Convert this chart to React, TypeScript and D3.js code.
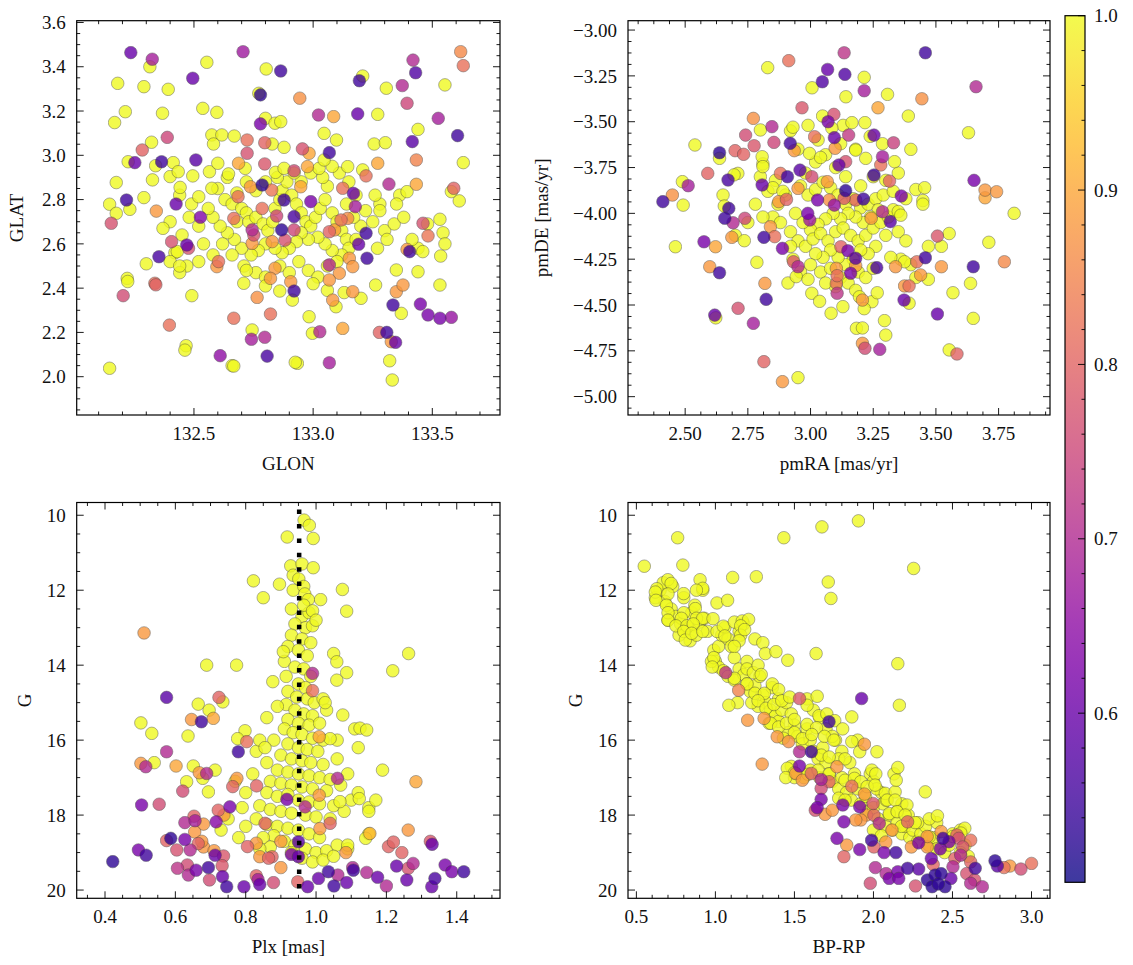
import React from 'react';
import * as d3 from 'd3';

type Pt = [number, number, number];

// ---------- Panel 1: GLON / GLAT ----------
const skyPoints: Pt[] = [
[132.235,3.464,0.6],[132.325,3.434,0.68],[132.315,3.40,1],[132.554,3.42,1],[132.706,3.468,0.67],[132.495,3.348,0.6],[132.18,3.325,1],[132.29,3.31,1],[132.392,3.298,1],[132.803,3.39,1],[132.864,3.381,0.55],[132.772,3.28,1],[132.779,3.273,0.53],[132.944,3.258,0.87],[133.208,3.358,1],[133.194,3.337,0.55],[133.307,3.303,1],[133.374,3.315,0.7],[133.394,3.235,0.75],[133.419,3.43,0.7],[133.43,3.373,0.57],[133.553,3.318,1],[133.619,3.468,0.86],[133.63,3.405,0.82],
[132.212,3.197,1],[132.167,3.148,1],[132.368,3.19,1],[132.537,3.212,1],[132.596,3.194,1],[132.8,3.167,1],[132.779,3.142,0.62],[132.84,3.145,1],[132.864,3.152,1],[133.0225,3.182,0.7],[133.086,3.175,0.9],[133.187,3.187,0.6],[133.271,3.185,1],[133.525,3.167,0.68],[133.44,3.117,1],[133.606,3.089,0.55],[133.416,3.062,0.58],[133.046,3.099,1],[133.098,3.069,1],[132.575,3.092,1],[132.617,3.092,1],[132.669,3.087,1],[132.388,3.081,0.75],[132.322,3.059,1],[132.283,3.024,0.8],[132.582,3.051,1],[132.723,3.069,0.82],[132.723,3.009,0.77],[132.797,3.057,0.8],[132.828,3.051,1],[132.878,3.036,1],[132.955,3.029,0.77],[132.983,3.009,0.9],[133.068,3.012,0.55],[133.256,3.051,1],[133.303,3.057,1],[133.63,2.967,1],
[132.224,2.971,1],[132.252,2.967,0.6],[132.339,2.953,1],[132.364,2.971,0.55],[132.413,2.967,1],[132.508,2.979,0.58],[132.495,2.907,1],[132.326,2.889,1],[132.4,2.904,1],[132.434,2.926,1],[132.174,2.877,1],[132.565,2.926,1],[132.60,2.964,1],[132.645,2.916,1],[132.687,2.964,0.9],[132.715,2.941,1],[132.797,2.961,0.78],[132.842,2.923,1],[132.878,2.941,1],[132.92,2.93,0.76],[132.976,2.949,0.9],[133.025,2.941,1],[133.046,2.979,1],[133.145,2.949,1],[133.271,2.964,0.9],[133.208,2.934,1],[133.433,2.979,0.85],[133.222,2.907,0.82],[133.318,2.87,0.7],[133.433,2.869,0.9],[133.363,2.82,1],[133.394,2.836,1],[133.58,2.836,1],[133.59,2.851,0.8],[133.613,2.794,1],[132.29,2.809,1],[132.217,2.798,0.55],[132.146,2.779,1],[132.174,2.738,1],[132.231,2.756,1],[132.153,2.693,0.77],[132.442,2.855,1],[132.575,2.851,1],[132.52,2.813,1],[132.425,2.78,0.6],[132.342,2.748,0.88],[132.527,2.72,0.63],
[132.737,2.858,0.88],[132.786,2.866,0.53],[132.826,2.843,0.83],[132.685,2.813,0.82],[132.878,2.798,0.55],[132.99,2.791,0.62],[132.948,2.858,0.9],[133.124,2.851,0.82],[133.169,2.828,0.6],[133.177,2.768,0.68],
[132.667,2.715,0.82],[132.744,2.663,0.7],[132.751,2.64,0.77],[132.744,2.602,0.88],[132.786,2.76,0.82],[132.847,2.726,0.75],[132.868,2.663,0.53],[132.882,2.617,0.77],[132.92,2.723,0.56],[132.92,2.663,0.75],[132.828,2.61,0.88],[133.068,2.655,0.8],[133.09,2.663,0.88],[133.117,2.708,0.82],[133.145,2.715,0.86],[133.222,2.648,0.55],[133.191,2.598,0.6],[133.226,2.535,0.55],[133.461,2.693,0.77],[133.482,2.636,0.83],[133.532,2.711,1],[133.545,2.65,1],[133.553,2.6,1],[133.535,2.545,1],[133.405,2.565,0.55],[133.394,2.575,0.88],[133.44,2.58,1],[133.46,2.565,1],[133.415,2.62,1],[133.44,2.474,1],[133.48,2.69,1],[133.34,2.69,1],[133.38,2.72,1],[133.35,2.78,1],[133.31,2.62,1],[133.28,2.75,1],[133.26,2.82,1],
[132.406,2.61,0.77],[132.47,2.595,0.6],[132.477,2.58,0.77],[132.353,2.542,0.56],[132.43,2.565,1],[132.3,2.51,1],[132.4,2.52,1],[132.44,2.50,1],
[132.603,2.52,0.82],[132.596,2.497,0.88],[132.84,2.49,0.88],[132.821,2.444,0.88],[133.068,2.505,0.7],[133.152,2.535,0.88],[133.166,2.497,0.88],[133.11,2.467,0.88],[133.068,2.437,0.88],
[132.22,2.444,1],[132.222,2.43,1],[132.336,2.422,0.82],[132.34,2.415,0.8],[132.203,2.366,0.76],[132.491,2.366,1],[132.709,2.422,1],[132.72,2.48,1],[132.765,2.358,0.87],[132.8,2.41,1],[132.86,2.387,1],[132.906,2.429,0.88],[132.92,2.387,0.55],[132.913,2.346,1],[133.0,2.42,1],[133.06,2.39,1],[133.082,2.346,0.88],[133.096,2.316,1],[133.13,2.38,1],[133.166,2.384,0.88],[133.201,2.354,1],[133.262,2.414,1],[133.349,2.482,1],[133.349,2.384,0.88],[133.377,2.414,0.88],[133.335,2.324,0.55],[133.37,2.286,1],[133.45,2.328,0.62],[133.482,2.279,0.62],[133.532,2.264,0.62],[133.58,2.268,0.66],[133.532,2.414,1],
[132.397,2.233,0.82],[132.667,2.264,0.82],[132.821,2.283,0.82],[132.983,2.271,1],[132.744,2.211,1],[132.741,2.169,0.68],[132.797,2.178,0.7],[132.997,2.196,1],[133.028,2.203,0.7],[133.124,2.218,0.9],[133.278,2.2,0.8],[133.309,2.2,0.55],[133.328,2.158,0.88],[133.346,2.155,0.6],[132.467,2.14,1],[132.462,2.12,1],[132.61,2.095,0.65],[132.66,2.05,1],[132.667,2.048,1],[132.807,2.093,0.56],[132.934,2.06,1],[132.925,2.065,1],[133.068,2.063,0.68],[133.321,2.072,1],[133.332,1.985,1],[132.146,2.038,1]
];
const skyCore: [number, number][] = [
[132.60,2.85],[132.63,2.80],[132.66,2.78],[132.70,2.76],[132.72,2.74],[132.68,2.70],[132.73,2.70],[132.76,2.72],[132.79,2.69],[132.81,2.66],[132.83,2.70],[132.84,2.76],[132.86,2.80],[132.87,2.84],[132.89,2.88],[132.91,2.82],[132.93,2.78],[132.95,2.74],[132.97,2.70],[132.99,2.68],[133.01,2.72],[133.03,2.76],[133.05,2.80],[133.06,2.86],[133.04,2.90],[133.08,2.74],[133.10,2.70],[133.12,2.66],[133.14,2.62],[133.15,2.58],[133.12,2.55],[133.08,2.57],[133.05,2.60],[133.02,2.63],[132.98,2.62],[132.95,2.65],[132.93,2.61],[132.90,2.58],[132.87,2.56],[132.84,2.58],[132.80,2.60],[132.77,2.57],[132.74,2.55],[132.70,2.58],[132.67,2.62],[132.64,2.65],[132.61,2.68],[132.58,2.72],[132.56,2.76],[132.62,2.60],[132.66,2.55],[132.71,2.50],[132.76,2.47],[132.80,2.45],[132.86,2.50],[132.90,2.47],[132.94,2.52],[132.98,2.48],[133.02,2.45],[133.06,2.50],[133.10,2.52],[133.18,2.62],[133.20,2.68],[133.17,2.72],[133.14,2.78],[133.18,2.82],[133.15,2.88],[133.11,2.92],[133.08,2.95],[132.99,2.92],[132.95,2.88],[132.92,2.92],[132.85,2.90],[132.80,2.88],[132.76,2.84],[132.72,2.88],[132.68,2.83],[132.64,2.90],[133.22,2.75],[133.25,2.70],[133.28,2.78],[133.30,2.66],[133.27,2.58],[132.52,2.68],[132.48,2.72],[132.45,2.64],[132.42,2.56],[132.40,2.70],[132.37,2.67],[132.44,2.82],[132.49,2.78],[132.54,2.60],[132.58,2.55],[132.52,2.52],[132.47,2.50],[132.44,2.47]
];

// ---------- Panel 2: pmRA / pmDE ----------
const pmPoints: Pt[] = [
[3.134,-3.124,0.72],[3.458,-3.124,0.55],[2.913,-3.167,0.82],[2.829,-3.205,1],[3.068,-3.215,0.6],[3.137,-3.242,0.57],[3.214,-3.258,1],[3.047,-3.282,0.57],[3.006,-3.315,1],[3.214,-3.331,0.68],[3.141,-3.364,1],[3.307,-3.351,1],[3.66,-3.309,0.7],[3.444,-3.375,0.87],[2.966,-3.424,0.78],[3.269,-3.424,0.9],[3.093,-3.46,0.77],[3.048,-3.469,1],[3.39,-3.469,1],[2.772,-3.482,0.87],[3.07,-3.5,0.62],[3.085,-3.535,1],[3.165,-3.505,1],[3.217,-3.505,1],[2.80,-3.545,1],[2.846,-3.527,0.7],[2.93,-3.53,1],[2.741,-3.573,0.76],[2.854,-3.613,0.75],[3.016,-3.582,0.82],[3.095,-3.587,0.6],[3.152,-3.573,0.73],[3.238,-3.58,1],[3.253,-3.573,0.6],[3.287,-3.62,1],[3.331,-3.615,0.74],[3.63,-3.56,1],[3.40,-3.651,1],[2.919,-3.618,0.55],[2.935,-3.658,0.88],[2.775,-3.631,0.78],[2.699,-3.658,0.8],[2.733,-3.678,0.8],[2.539,-3.627,1],[2.637,-3.669,0.53],[2.637,-3.70,1],[2.807,-3.691,1],[2.81,-3.745,1],[2.996,-3.673,1],[3.04,-3.695,1],[3.098,-3.645,0.88],[3.18,-3.655,1],[3.14,-3.718,0.77],[3.113,-3.736,0.6],[3.287,-3.691,0.68],[3.28,-3.736,0.82],[3.335,-3.718,1],[2.958,-3.764,0.58],[2.908,-3.80,0.55],[2.88,-3.782,0.82],[3.005,-3.80,0.76],[3.067,-3.827,0.88],[3.253,-3.791,0.55],[3.315,-3.824,0.8],[2.71,-3.782,1],[2.695,-3.79,1],[2.671,-3.818,0.56],[2.59,-3.782,0.8],[2.489,-3.827,1],[2.512,-3.849,0.68],[2.449,-3.9,0.87],[2.411,-3.936,0.55],[2.492,-3.955,1],[2.651,-3.9,1],[2.656,-3.96,1],[2.807,-3.845,0.6],[2.85,-3.86,1],[2.89,-3.88,1],[2.95,-3.864,0.88],[2.873,-3.936,0.88],[2.904,-3.924,0.8],[3.028,-3.927,0.62],[3.075,-3.927,0.87],[3.14,-3.876,0.53],[3.134,-3.918,0.78],[3.211,-3.922,0.55],[3.18,-3.927,0.8],[3.362,-3.905,0.62],[3.42,-3.87,1],[3.455,-3.86,1],[3.448,-3.93,1],[3.448,-3.95,1],[3.095,-3.955,0.66],[2.989,-4.0,0.62],[2.997,-4.036,0.67],[3.287,-3.991,0.7],[3.318,-4.045,0.58],[3.242,-4.027,0.88],[2.674,-3.973,0.55],[2.658,-4.027,0.55],[2.691,-4.051,0.7],[2.738,-4.027,0.75],[2.81,-4.02,1],[3.35,-3.99,1],[3.36,-4.01,1],[3.812,-4.0,1],[3.696,-3.873,0.88],[3.696,-3.915,0.9],[3.742,-3.882,0.88],[3.652,-3.82,0.62],[3.506,-4.124,0.78],[3.553,-4.11,1],[3.522,-4.18,1],[3.47,-4.18,1],[3.711,-4.158,1],[3.773,-4.264,0.86],[2.84,-4.073,0.88],[2.857,-4.127,0.82],[2.814,-4.131,0.55],[2.888,-4.191,0.62],[2.92,-4.18,1],[2.686,-4.131,0.88],[2.736,-4.149,1],[2.575,-4.155,0.62],[2.621,-4.182,0.9],[2.461,-4.182,1],[2.598,-4.291,0.88],[2.637,-4.324,0.55],[2.786,-4.267,1],[2.818,-4.382,0.88],[2.823,-4.469,0.55],[2.711,-4.518,0.77],[2.618,-4.555,0.6],[2.622,-4.57,1],[2.772,-4.6,0.68],[2.814,-4.809,0.8],[2.888,-4.918,0.88],[2.95,-4.896,1],[2.932,-4.264,0.78],[2.95,-4.291,0.7],[2.943,-4.345,1],[2.99,-4.36,1],[3.005,-4.436,1],[3.036,-4.48,1],[3.082,-4.545,1],[3.129,-4.509,1],[3.106,-4.436,0.72],[3.103,-4.382,0.82],[3.106,-4.34,0.82],[3.103,-4.30,0.88],[3.16,-4.327,0.62],[3.18,-4.245,0.58],[3.149,-4.204,0.62],[3.121,-4.182,0.8],[3.18,-4.285,0.88],[3.207,-4.473,0.88],[3.245,-4.482,1],[3.214,-4.52,1],[3.266,-4.433,1],[3.264,-4.296,0.56],[3.339,-4.291,0.88],[3.375,-4.264,1],[3.32,-4.24,1],[3.424,-4.264,0.82],[3.458,-4.242,0.55],[3.439,-4.336,0.88],[3.47,-4.36,1],[3.522,-4.291,0.88],[3.393,-4.396,0.82],[3.375,-4.396,0.88],[3.373,-4.473,0.6],[3.393,-4.49,1],[3.649,-4.291,0.55],[3.638,-4.382,1],[3.568,-4.433,1],[3.506,-4.549,0.6],[3.649,-4.573,1],[3.553,-4.745,1],[3.584,-4.767,0.8],[3.295,-4.585,1],[3.30,-4.664,1],[3.183,-4.627,1],[3.207,-4.625,1],[3.207,-4.709,0.88],[3.217,-4.736,0.76],[3.276,-4.742,0.68],[3.195,-4.455,1]
];
const pmCore: [number, number][] = [
[2.96,-3.85],[2.99,-3.90],[3.02,-3.87],[3.05,-3.83],[3.08,-3.86],[3.11,-3.90],[3.14,-3.95],[3.17,-3.92],[3.20,-3.97],[3.23,-3.95],[3.26,-3.92],[3.29,-3.90],[3.27,-3.98],[3.24,-4.02],[3.21,-4.05],[3.18,-4.02],[3.15,-4.00],[3.12,-4.03],[3.09,-4.00],[3.06,-4.03],[3.03,-4.06],[3.00,-4.09],[2.97,-4.05],[2.94,-4.00],[2.92,-4.10],[2.95,-4.15],[2.98,-4.18],[3.01,-4.14],[3.04,-4.11],[3.07,-4.15],[3.10,-4.10],[3.13,-4.08],[3.16,-4.12],[3.19,-4.15],[3.22,-4.12],[3.25,-4.08],[3.28,-4.05],[3.31,-4.02],[3.33,-3.98],[3.30,-4.12],[3.26,-4.18],[3.23,-4.22],[3.20,-4.20],[3.17,-4.25],[3.14,-4.28],[3.11,-4.24],[3.08,-4.20],[3.05,-4.24],[3.02,-4.22],[3.00,-4.28],[3.04,-4.32],[3.08,-4.30],[3.12,-4.35],[3.15,-4.38],[3.19,-4.32],[3.22,-4.35],[3.25,-4.30],[3.10,-4.40],[3.06,-4.38],[3.18,-4.42],[3.35,-4.10],[3.38,-4.15],[3.36,-4.25],[3.40,-4.28],[3.42,-4.35],[2.90,-3.90],[2.87,-3.95],[2.85,-4.02],[2.88,-4.05],[2.83,-3.88],[2.86,-3.82],[2.98,-3.78],[3.02,-3.72],[3.06,-3.68],[3.10,-3.75],[3.14,-3.80],[3.20,-3.85],[3.25,-3.80],[3.30,-3.82],[3.33,-3.88],[3.38,-3.92],[3.35,-3.78],[3.22,-3.70],[3.18,-3.65],[3.12,-3.62],[3.03,-3.60],[2.95,-3.65],[2.92,-3.55],[2.99,-3.52],[3.13,-3.52],[2.81,-3.73],[2.80,-3.80],[2.78,-3.95],[2.75,-4.05],[2.70,-4.12],[2.93,-4.25],[2.96,-4.32],[2.91,-4.38]
];

// ---------- Panel 3: Plx / G ----------
const plxPoints: Pt[] = [
[0.966,10.13,1],[0.981,10.27,1],[0.992,10.62,1],[0.918,10.58,1],[0.928,11.35,1],[0.96,11.3,1],[0.992,11.4,1],[0.935,11.6,1],[0.951,11.7,1],[0.822,11.75,1],[0.896,11.84,1],[0.935,12.0,1],[1.075,11.98,1],[0.965,11.9,1],[0.968,12.1,1],[0.978,12.25,1],[0.965,12.4,1],[0.85,12.2,1],[1.013,12.25,1],[1.087,12.56,1],[0.99,12.55,1],[1.0,12.8,1],
[0.511,13.14,0.88],[0.907,13.64,1],[1.263,13.69,1],[1.05,13.69,1],[1.059,13.91,1],[0.689,14.0,1],[0.774,14.0,1],[1.218,14.15,1],[1.087,14.2,1],[1.059,14.4,1],[0.99,14.22,0.7],[0.877,14.44,1],[0.99,14.68,0.82],[0.575,14.86,0.58],[0.724,14.86,0.8],[0.735,14.98,1],[0.665,15.04,1],[0.696,15.2,1],[0.708,15.42,0.9],[0.646,15.45,0.88],[0.674,15.51,0.55],[0.502,15.54,1],[0.533,15.82,1],[0.636,15.89,1],[1.026,15.0,1],[1.076,15.33,1],[1.11,15.7,1],[1.125,15.68,1],[1.144,15.73,1],[0.798,15.75,1],[0.777,15.96,1],[0.803,16.04,0.82],[0.779,16.31,0.55],[0.575,16.31,0.7],[0.84,16.0,1],[0.855,16.2,1],[1.009,15.91,0.9],[1.04,15.96,1],
[0.502,16.62,0.88],[0.516,16.71,0.7],[0.54,16.6,1],[0.602,16.69,0.9],[0.651,16.69,1],[0.668,16.87,0.88],[0.689,16.89,0.7],[0.713,16.8,1],[0.678,17.02,1],[0.775,17.02,0.88],[0.763,17.24,0.8],[0.632,17.11,1],[0.621,17.36,0.76],[0.694,17.38,1],[1.061,17.02,0.7],[1.189,16.8,1],[1.284,17.11,0.9],[0.831,17.22,0.8],[0.504,17.73,0.62],[0.554,17.71,0.76],[0.917,17.58,0.62],[0.969,17.78,0.7],[1.009,17.47,0.88],[1.068,17.64,1],[1.123,17.56,1],[1.15,17.9,1],[0.755,17.78,0.62],[0.722,17.87,0.8],[0.738,18.0,0.88],[0.653,18.03,0.8],[0.627,18.2,0.7],[0.656,18.15,0.68],[0.716,18.18,0.64],[0.68,18.24,0.88],[0.855,18.22,0.8],[1.04,18.22,0.8],[1.011,18.36,0.88],[1.141,18.62,1],[1.153,18.49,0.92],[1.262,18.4,0.88],
[0.575,18.68,0.8],[0.587,18.62,0.53],[0.665,18.76,0.8],[0.627,18.65,0.62],[0.68,18.85,0.88],[0.71,18.95,0.88],[0.655,18.45,0.88],[0.675,18.7,0.88],[0.805,18.84,0.8],[0.83,18.75,0.88],[0.9,18.7,0.88],[0.95,18.71,0.58],[0.95,19.11,0.6],[0.93,19.05,0.62],[0.875,19.11,0.8],[0.865,19.15,0.8],[0.9,19.4,0.88],[0.84,19.11,0.88],[1.09,18.8,1],[1.085,19.0,0.88],[1.206,18.84,0.8],[1.22,18.72,0.8],[1.244,19.0,0.8],[1.325,18.7,0.78],[1.33,18.78,0.6],[0.495,18.93,0.62],[0.517,19.07,0.55],[0.422,19.24,0.53],[0.604,18.93,0.77],[0.642,18.93,0.7],[0.713,19.07,0.6],[0.737,19.09,0.78],[0.606,19.42,0.72],[0.634,19.33,0.76],[0.637,19.6,0.7],[0.659,19.47,0.62],[0.694,19.4,0.55],[0.697,19.73,0.76],[0.733,19.35,0.78],[0.734,19.64,0.6],[0.746,19.91,0.55],[0.795,19.91,0.6],[0.83,19.62,0.8],[0.835,19.72,0.68],[0.84,19.85,0.6],[0.879,19.8,0.76],[0.948,19.78,0.8],[0.976,19.91,0.6],[1.007,19.69,0.6],[1.035,19.51,0.55],[1.051,19.89,0.55],[1.062,19.6,0.7],[1.087,19.8,0.6],[1.106,19.47,0.55],[1.104,19.4,0.7],[1.144,19.53,0.7],[1.175,19.66,0.6],[1.2,19.89,0.7],[1.229,19.36,0.6],[1.258,19.73,0.6],[1.276,19.29,0.7],[1.262,19.42,0.77],[1.329,19.91,0.6],[1.338,19.69,0.56],[1.367,19.33,0.62],[1.386,19.51,0.62],[1.42,19.51,0.55]
];
const plxCore: [number, number][] = [
[0.93,12.5],[0.96,12.7],[0.98,12.6],[0.94,12.9],[0.97,13.0],[0.99,12.95],[0.93,13.2],[0.96,13.3],[0.985,13.4],[0.92,13.5],[0.95,13.6],[0.975,13.75],[0.91,13.9],[0.94,14.05],[0.965,14.1],[0.985,14.3],[0.915,14.3],[0.95,14.5],[0.97,14.6],[0.92,14.7],[0.945,14.85],[0.975,14.9],[0.995,15.0],[0.915,15.05],[0.94,15.2],[0.965,15.3],[0.99,15.35],[0.92,15.45],[0.95,15.55],[0.98,15.6],[1.01,15.55],[0.91,15.7],[0.935,15.8],[0.96,15.85],[0.99,15.95],[1.02,16.0],[0.92,16.1],[0.95,16.2],[0.975,16.25],[1.005,16.3],[0.9,16.4],[0.93,16.5],[0.96,16.55],[0.985,16.6],[1.02,16.65],[0.89,16.8],[0.92,16.85],[0.95,16.9],[0.98,16.95],[1.01,17.0],[1.04,17.05],[0.87,17.1],[0.9,17.15],[0.93,17.2],[0.96,17.25],[0.99,17.3],[1.03,17.35],[0.86,17.4],[0.89,17.5],[0.92,17.45],[0.95,17.6],[0.98,17.65],[1.01,17.7],[1.05,17.75],[0.84,17.75],[0.87,17.85],[0.9,17.9],[0.93,17.95],[0.97,18.0],[1.0,18.05],[1.04,18.1],[0.83,18.1],[0.86,18.25],[0.89,18.3],[0.92,18.35],[0.95,18.4],[0.98,18.5],[1.01,18.6],[0.88,18.55],[0.85,18.6],[0.91,18.7],[0.94,18.8],[0.97,18.9],[1.0,19.0],[1.03,18.95],[0.87,18.85],[0.93,19.0],[0.96,19.15],[0.99,19.25],[1.06,18.8],[1.09,18.9],[1.08,17.9],[1.1,17.6],[1.07,17.2],[1.12,17.4],[1.06,16.5],[1.09,16.9],[0.82,16.9],[0.8,17.4],[0.79,17.8],[0.77,17.1],[0.83,16.3],[0.86,16.6],[0.8,18.3],[0.78,18.6],[0.84,18.9],[1.02,19.2],[1.05,19.1],[0.75,18.1],[0.73,18.4],[1.15,17.8],[1.17,17.6],[1.15,18.5],[1.12,16.2],[1.06,16.0],[0.88,16.0],[0.86,15.4],[0.89,15.1],[1.02,14.9],[1.03,15.2]
];

// ---------- Panel 4: BP-RP / G ----------
const cmdPoints: Pt[] = [
[1.905,10.15,1],[1.674,10.31,1],[1.433,10.6,1],[0.761,10.6,1],[0.55,11.36,1],[0.794,11.33,1],[2.254,11.42,1],[1.109,11.66,1],[1.259,11.64,1],[1.714,11.78,1],[1.731,12.22,1],[0.699,11.72,1],[0.72,11.82,1],[0.629,11.96,1],[0.62,12.05,1],[0.624,12.27,1],[0.70,12.1,1],[0.903,11.72,1],[0.92,11.95,1],[0.88,12.0,1],[0.799,12.09,1],[0.69,12.4,1],[0.7,12.6,1],[0.7,12.8,1],[1.01,12.34,1],[1.077,12.27,1],[0.873,12.49,1],[0.8,12.6,1],[0.785,12.75,1],[0.75,12.95,1],[0.82,12.95,1],[0.88,12.75,1],[0.92,12.75,1],[0.985,12.76,1],[0.86,12.9,1],[0.8,13.1,1],[0.81,13.33,1],[0.85,13.15,1],[0.92,13.1,1],[1.01,13.1,1],[1.05,12.96,1],[1.12,12.85,1],[1.17,12.82,1],[1.21,12.78,1],[1.16,12.95,1],[1.06,13.22,1],[1.16,13.2,1],[1.15,13.35,1],[1.12,13.5,1],[1.185,13.05,1],[1.316,13.69,1],[1.383,13.64,1],[1.637,13.69,1],[1.458,13.87,1],[2.154,13.96,1],[0.975,13.9,1],[0.99,13.8,1],[0.98,14.05,1],[1.065,14.2,0.72],[1.12,14.35,1],[1.2,14.1,1],[1.24,14.2,1],[1.27,14.0,1],[1.29,14.25,1],[1.147,14.67,0.85],[1.085,15.07,1],[1.2,14.5,1],[1.25,14.75,1],[1.31,14.75,1],[1.36,14.5,1],[1.4,14.65,1],[1.27,14.95,1],[1.32,15.15,1],[1.37,15.05,1],[1.42,14.95,1],[1.47,14.85,1],[1.532,14.89,0.78],[1.644,14.83,1],[1.58,15.07,1],[1.925,14.89,0.6],[2.164,15.07,1],[1.204,15.47,0.88],[1.308,15.42,0.88],[1.35,15.55,1],[1.4,15.65,1],[1.45,15.55,1],[1.719,15.51,0.55],[1.655,15.35,1],[1.705,15.3,1],[1.755,15.48,1],[1.805,15.7,1],[1.863,15.38,1],[1.5,15.45,1],[1.58,15.58,1],[1.64,15.67,1],[1.391,15.91,0.88],[1.463,16.04,0.87],[1.5,15.8,1],[1.55,15.96,1],[1.61,15.85,1],[1.69,15.9,1],[1.75,16.0,1],[1.863,16.04,1],[1.943,16.11,0.88],[1.913,16.31,1],[2.022,16.31,1],[1.532,16.31,0.7],[1.607,16.31,0.55],[1.67,16.4,1],[1.72,16.45,1],[1.82,16.5,1],[1.296,16.64,0.88],[1.532,16.69,0.62],[1.455,16.75,1],[1.5,16.87,1],[1.585,16.91,1],[1.65,16.8,1],[1.72,16.9,1],[1.769,16.71,0.88],[2.154,16.73,1],[1.99,16.8,1],[2.015,16.9,1],[1.445,17.0,1],[1.508,16.89,0.88],[1.55,17.07,0.88],[1.607,16.89,0.8],[1.669,17.05,0.68],[1.669,17.29,0.76],[1.719,17.11,0.8],[1.82,17.07,1],[1.88,17.02,1],[1.92,17.11,1],[1.96,17.24,1],[1.863,17.23,0.82],[2.01,17.2,1],[2.075,17.42,1],[2.137,17.38,1],[2.144,17.07,1],[2.328,17.38,1],[1.943,17.44,0.88],[1.669,17.58,0.62],[1.644,17.8,0.62],[1.632,17.87,0.77],[1.694,17.98,0.88],[1.74,17.87,0.88],[1.806,17.73,0.62],[1.78,17.55,1],[1.82,17.6,1],[1.913,17.78,0.62],[1.998,17.69,0.78],[1.955,18.0,0.88],[1.92,18.13,0.88],[2.003,18.0,0.8],[2.037,18.22,0.7],[1.813,18.18,0.62],[1.888,18.13,0.88],[2.087,17.6,1],[2.137,17.6,1],[2.212,17.73,1],[2.1,17.96,1],[2.15,17.91,1],[2.2,18.0,1],[2.216,18.18,0.8],[2.117,18.4,0.88],[2.177,18.3,1],[2.264,18.2,1],[2.353,18.1,1],[2.405,18.02,1],[1.769,18.62,0.62],[1.831,18.8,0.88],[1.813,19.11,0.8],[1.913,18.92,0.62],[1.988,18.67,0.55],[2.003,18.85,0.8],[2.067,19.0,0.62],[2.142,19.0,0.55],[2.012,19.4,0.7],[2.08,19.56,0.7],[2.154,19.51,0.62],[2.1,19.69,0.62],[2.16,19.69,0.62],[2.216,19.42,0.55],[1.98,19.82,0.76],[2.266,19.89,0.77],[2.286,19.44,0.58],[2.286,18.74,0.62],[2.34,18.85,0.88],[2.24,18.85,0.88],[2.353,18.58,1],[2.366,19.16,0.6],[2.378,19.32,0.8],[2.341,19.73,0.53],[2.371,19.91,0.53],[2.39,19.6,0.53],[2.428,19.56,0.53],[2.44,18.62,0.55],[2.478,18.71,0.62],[2.453,19.91,0.53],[2.41,19.84,0.53],[2.423,18.9,0.62],[2.49,19.69,0.6],[2.503,19.38,0.7],[2.515,19.16,0.8],[2.552,19.07,0.7],[2.528,18.53,0.8],[2.54,18.62,0.77],[2.615,18.67,0.82],[2.565,18.85,0.77],[2.59,19.56,0.77],[2.615,19.82,0.7],[2.64,19.73,0.77],[2.644,19.42,0.55],[2.689,19.91,0.7],[2.615,19.25,0.8],[2.769,19.22,0.53],[2.784,19.36,0.58],[2.826,19.4,0.82],[2.863,19.36,0.88],[2.933,19.44,0.76],[3.0,19.29,0.82],[2.578,18.35,1],[2.553,18.48,1],[2.503,18.57,1],[2.428,18.44,0.88],[2.34,18.57,0.88],[2.0,18.4,1],[2.05,18.55,1],[2.078,18.72,0.88]
];
const cmdCore: [number, number][] = [
[0.65,12.0],[0.68,12.3],[0.72,12.5],[0.75,12.7],[0.7,12.8],[0.78,12.9],[0.8,13.1],[0.82,13.0],[0.77,13.2],[0.84,13.35],[0.86,12.95],[0.9,12.85],[0.93,12.75],[0.95,13.1],[0.88,13.2],[0.99,13.6],[1.02,13.5],[1.04,13.2],[1.06,13.0],[1.08,13.3],[1.1,13.5],[1.12,13.8],[1.0,13.9],[1.02,14.05],[1.05,14.15],[1.08,14.3],[1.12,14.4],[1.15,14.1],[1.18,14.25],[1.2,14.5],[1.22,14.7],[1.25,14.55],[1.28,14.3],[1.3,14.8],[1.32,15.0],[1.27,15.1],[1.23,15.0],[1.35,15.2],[1.38,15.35],[1.4,15.5],[1.34,15.55],[1.42,15.2],[1.45,15.0],[1.48,15.3],[1.5,15.6],[1.46,15.8],[1.43,15.95],[1.52,15.9],[1.55,16.1],[1.58,15.7],[1.6,16.0],[1.62,16.3],[1.65,16.5],[1.68,16.2],[1.7,16.6],[1.72,16.9],[1.66,17.0],[1.6,16.8],[1.56,17.0],[1.5,17.0],[1.48,16.7],[1.74,17.1],[1.78,17.3],[1.8,17.0],[1.83,17.4],[1.86,17.6],[1.9,17.3],[1.92,17.7],[1.95,17.5],[1.97,17.9],[2.0,17.8],[2.03,18.1],[2.06,17.7],[2.08,18.3],[2.1,18.0],[2.12,18.4],[2.15,18.2],[2.18,18.5],[2.2,18.3],[2.23,18.6],[2.25,18.4],[2.28,18.7],[2.3,18.5],[2.33,18.3],[2.35,18.8],[2.38,18.6],[2.4,18.9],[2.45,19.0],[2.5,18.5],[2.55,18.4],[2.58,18.8],[1.76,16.0],[1.8,16.3],[1.85,16.6],[1.88,16.9],[1.98,16.9],[2.0,17.1],[2.05,17.4],[2.08,17.6],[2.15,17.9],[2.18,17.7],[2.22,18.0],[2.28,18.2],[1.58,14.9],[1.62,15.2],[1.66,15.4],[1.7,15.7],[1.74,15.9],[1.78,16.5],[1.36,14.6],[1.4,14.9],[1.2,13.9],[1.25,13.3],[1.3,13.4],[1.15,13.1],[1.18,12.9],[0.73,11.9],[0.62,12.2],[0.67,11.8],[0.8,12.2],[0.85,12.6],[0.92,12.0],[0.87,12.4],[1.14,15.0],[1.9,16.0],[2.02,17.3],[2.13,16.9],[2.4,18.2],[2.48,18.8],[2.6,19.1],[2.55,19.0]
];

// cluster mean parallax (dotted line) and colour-scale limits
const plxMean = 0.952;
const plxLineG: [number, number] = [9.85, 20.22];
const probRange: [number, number] = [0.503, 1.0];
const cbMajor = [0.6, 0.7, 0.8, 0.9, 1.0];

const FONT = "'Liberation Serif', 'DejaVu Serif', serif";
const FS = 19;

const colorScale = d3.scaleSequential(d3.interpolatePlasma).domain(probRange);

function stepTicks(lo: number, hi: number, step: number): number[] {
  const a = Math.min(lo, hi), b = Math.max(lo, hi);
  const out: number[] = [];
  const k0 = Math.ceil(a / step - 1e-9);
  for (let k = k0; k * step <= b + 1e-9; k++) out.push(+(k * step).toFixed(6));
  return out;
}

interface PanelCfg {
  x0: number; x1: number; y0: number; y1: number;
  xDom: [number, number]; yDom: [number, number];
  xStep: number; xMinor: number; yStep: number; yMinor: number;
  xFmt: (v: number) => string; yFmt: (v: number) => string;
  xLabel: string; yLabel: string; yLabelX: number;
  pts: Pt[];
  id: string;
  extra?: (x: d3.ScaleLinear<number, number>, y: d3.ScaleLinear<number, number>) => React.ReactNode;
}

const fmt = (spec: string) => { const f = d3.format(spec); return (v: number) => f(v).replace('-', '\u2212'); };

function Panel({ c }: { c: PanelCfg }) {
  const x = d3.scaleLinear().domain(c.xDom).range([c.x0, c.x1]);
  const y = d3.scaleLinear().domain(c.yDom).range([c.y1, c.y0]);
  const xMaj = stepTicks(c.xDom[0], c.xDom[1], c.xStep);
  const yMaj = stepTicks(c.yDom[0], c.yDom[1], c.yStep);
  const xMin = stepTicks(c.xDom[0], c.xDom[1], c.xMinor).filter(v => !xMaj.some(m => Math.abs(m - v) < 1e-6));
  const yMin = stepTicks(c.yDom[0], c.yDom[1], c.yMinor).filter(v => !yMaj.some(m => Math.abs(m - v) < 1e-6));
  const sorted = [...c.pts].sort((a, b) => b[2] - a[2]);
  const MAJ = 7, MIN = 3.5;
  return (
    <g>
      <defs>
        <clipPath id={`clip-${c.id}`}>
          <rect x={c.x0} y={c.y0} width={c.x1 - c.x0} height={c.y1 - c.y0} />
        </clipPath>
      </defs>
      <g clipPath={`url(#clip-${c.id})`}>
        {sorted.map((p, i) => (
          <circle key={i} cx={x(p[0])} cy={y(p[1])} r={6.3}
            fill={colorScale(p[2])} stroke="#3c3c3c" strokeWidth={0.5} opacity={0.8} />
        ))}
        {c.extra ? c.extra(x, y) : null}
      </g>
      <rect x={c.x0} y={c.y0} width={c.x1 - c.x0} height={c.y1 - c.y0} fill="none" stroke="#000" strokeWidth={1.2} />
      <g stroke="#000" strokeWidth={0.9}>
        {xMaj.map(v => <g key={'xM' + v}>
          <line x1={x(v)} x2={x(v)} y1={c.y1} y2={c.y1 - MAJ} />
          <line x1={x(v)} x2={x(v)} y1={c.y0} y2={c.y0 + MAJ} />
        </g>)}
        {xMin.map(v => <g key={'xm' + v}>
          <line x1={x(v)} x2={x(v)} y1={c.y1} y2={c.y1 - MIN} />
          <line x1={x(v)} x2={x(v)} y1={c.y0} y2={c.y0 + MIN} />
        </g>)}
        {yMaj.map(v => <g key={'yM' + v}>
          <line x1={c.x0} x2={c.x0 + MAJ} y1={y(v)} y2={y(v)} />
          <line x1={c.x1} x2={c.x1 - MAJ} y1={y(v)} y2={y(v)} />
        </g>)}
        {yMin.map(v => <g key={'ym' + v}>
          <line x1={c.x0} x2={c.x0 + MIN} y1={y(v)} y2={y(v)} />
          <line x1={c.x1} x2={c.x1 - MIN} y1={y(v)} y2={y(v)} />
        </g>)}
      </g>
      <g fontFamily={FONT} fontSize={FS} fill="#111">
        {xMaj.map(v => <text key={'xt' + v} x={x(v)} y={c.y1 + 25} textAnchor="middle">{c.xFmt(v)}</text>)}
        {yMaj.map(v => <text key={'yt' + v} x={c.x0 - 11} y={y(v)} dy="0.35em" textAnchor="end">{c.yFmt(v)}</text>)}
        <text x={(c.x0 + c.x1) / 2} y={c.y1 + 55} textAnchor="middle">{c.xLabel}</text>
        <text transform={`translate(${c.yLabelX},${(c.y0 + c.y1) / 2}) rotate(-90)`} dy="0.35em" textAnchor="middle">{c.yLabel}</text>
      </g>
    </g>
  );
}

function withCore(pts: Pt[], core: [number, number][]): Pt[] {
  return [...core.map(([a, b]) => [a, b, 1] as Pt), ...pts];
}

export default function App() {
  const row1 = { y0: 20.7, y1: 415 };
  const row2 = { y0: 502.5, y1: 898.3 };
  const col1 = { x0: 76.7, x1: 500 };
  const col2 = { x0: 628, x1: 1050 };
  const panels: PanelCfg[] = [
    { id: 'p1', ...col1, ...row1, xDom: [132.008, 133.784], yDom: [1.827, 3.608], xStep: 0.5, xMinor: 0.1, yStep: 0.2, yMinor: 0.05,
      xFmt: fmt('.1f'), yFmt: fmt('.1f'), xLabel: 'GLON', yLabel: 'GLAT', yLabelX: 16, pts: withCore(skyPoints, skyCore) },
    { id: 'p2', ...col2, ...row1, xDom: [2.272, 3.955], yDom: [-5.10, -2.949], xStep: 0.25, xMinor: 0.0625, yStep: 0.25, yMinor: 0.0625,
      xFmt: fmt('.2f'), yFmt: fmt('.2f'), xLabel: 'pmRA [mas/yr]', yLabel: 'pmDE [mas/yr]', yLabelX: 541, pts: withCore(pmPoints, pmCore) },
    { id: 'p3', ...col1, ...row2, xDom: [0.3195, 1.523], yDom: [20.22, 9.66], xStep: 0.2, xMinor: 0.05, yStep: 2, yMinor: 0.5,
      xFmt: fmt('.1f'), yFmt: fmt('d'), xLabel: 'Plx [mas]', yLabel: 'G', yLabelX: 24, pts: withCore(plxPoints, plxCore),
      extra: (x, y) => <line x1={x(plxMean)} x2={x(plxMean)} y1={y(plxLineG[0])} y2={y(plxLineG[1])}
        stroke="#000" strokeWidth={4.5} strokeDasharray="4.5 9.9" /> },
    { id: 'p4', ...col2, ...row2, xDom: [0.447, 3.117], yDom: [20.22, 9.66], xStep: 0.5, xMinor: 0.1, yStep: 2, yMinor: 0.5,
      xFmt: fmt('.1f'), yFmt: fmt('d'), xLabel: 'BP-RP', yLabel: 'G', yLabelX: 575, pts: withCore(cmdPoints, cmdCore) },
  ];

  // colorbar
  const cb = { x0: 1065, x1: 1085, y0: 15.7, y1: 882.3 };
  const cy = d3.scaleLinear().domain(probRange).range([cb.y1, cb.y0]);
  const stops = d3.range(0, 1.0001, 0.05);
  const cbMinor = stepTicks(probRange[0], probRange[1], 0.02).filter(v => !cbMajor.some(m => Math.abs(m - v) < 1e-6));

  return (
    <svg width={1133} height={965} style={{ position: 'absolute', left: 0, top: 0, background: '#fff' }}>
      <rect width={1133} height={965} fill="#fff" />
      {panels.map(p => <Panel key={p.id} c={p} />)}
      <defs>
        <linearGradient id="cbgrad" x1="0" y1="1" x2="0" y2="0">
          {stops.map(t => <stop key={t} offset={t} stopColor={d3.interpolatePlasma(t)} />)}
        </linearGradient>
      </defs>
      <rect x={cb.x0} y={cb.y0} width={cb.x1 - cb.x0} height={cb.y1 - cb.y0} fill="url(#cbgrad)" opacity={0.8} />
      <rect x={cb.x0} y={cb.y0} width={cb.x1 - cb.x0} height={cb.y1 - cb.y0} fill="none" stroke="#000" strokeWidth={1.2} />
      <g stroke="#000" strokeWidth={0.9}>
        {cbMajor.map(v => <line key={'cM' + v} x1={cb.x1} x2={cb.x1 - 7} y1={cy(v)} y2={cy(v)} />)}
        {cbMinor.map(v => <line key={'cm' + v} x1={cb.x1} x2={cb.x1 - 3.5} y1={cy(v)} y2={cy(v)} />)}
      </g>
      <g fontFamily={FONT} fontSize={FS} fill="#111">
        {cbMajor.map(v => <text key={'ct' + v} x={cb.x1 + 9} y={cy(v)} dy="0.35em">{d3.format('.1f')(v)}</text>)}
      </g>
    </svg>
  );
}
